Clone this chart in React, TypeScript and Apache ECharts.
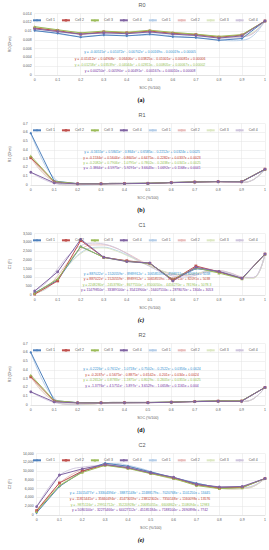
import React, { useEffect, useRef } from "react";
import * as echarts from "echarts";

const SOC = [0, 0.1, 0.2, 0.3, 0.4, 0.5, 0.6, 0.7, 0.8, 0.9, 1];
const FIT_SOC = [0, 0.05, 0.1, 0.15, 0.2, 0.25, 0.3, 0.35, 0.4, 0.45, 0.5, 0.55, 0.6, 0.65, 0.7, 0.75, 0.8, 0.85, 0.9, 0.95, 1];
const CELLS = ["Cell 1", "Cell 2", "Cell 3", "Cell 4"];

const R0_VALUES = [
  [0.0101, 0.0095, 0.0086, 0.0091, 0.0089, 0.0093, 0.0087, 0.0085, 0.0079, 0.0083, 0.0123],
  [0.0107, 0.0101, 0.0093, 0.0098, 0.0096, 0.01, 0.0095, 0.0092, 0.0086, 0.0091, 0.0123],
  [0.011, 0.0103, 0.0096, 0.01, 0.0097, 0.0102, 0.0097, 0.0093, 0.0088, 0.0092, 0.0123],
  [0.0105, 0.0099, 0.0093, 0.0096, 0.0094, 0.0098, 0.0093, 0.009, 0.0084, 0.0089, 0.0123],
];
const R0_FITS = [
  [0.0101, 0.0098, 0.0094, 0.009, 0.0088, 0.0089, 0.0091, 0.0091, 0.009, 0.009, 0.0091, 0.0091, 0.0089, 0.0087, 0.0085, 0.0083, 0.008, 0.0078, 0.0079, 0.009, 0.0123],
  [0.0107, 0.0104, 0.01, 0.0097, 0.0095, 0.0096, 0.0097, 0.0098, 0.0098, 0.0098, 0.0098, 0.0097, 0.0095, 0.0093, 0.0091, 0.0089, 0.0087, 0.0086, 0.0087, 0.0096, 0.0123],
  [0.011, 0.0106, 0.0102, 0.0099, 0.0097, 0.0098, 0.0099, 0.0099, 0.0099, 0.01, 0.01, 0.0099, 0.0097, 0.0095, 0.0093, 0.009, 0.0088, 0.0087, 0.0089, 0.0098, 0.0123],
  [0.0105, 0.0102, 0.0098, 0.0095, 0.0093, 0.0094, 0.0095, 0.0096, 0.0096, 0.0096, 0.0096, 0.0095, 0.0093, 0.0091, 0.0089, 0.0087, 0.0085, 0.0084, 0.0086, 0.0095, 0.0123],
];
const R0_EQUATIONS = [
  "y = -0.00515x⁶ + 0.01072x⁵ - 0.00702x⁴ + 0.00169x³ - 0.00019x + 0.00005",
  "y = -0.01412x⁶ + 0.04908x⁵ - 0.06406x⁴ + 0.03825x³ - 0.01001x² + 0.00081x + 0.00006",
  "y = -0.01258x⁶ + 0.03539x⁵ - 0.04044x⁴ + 0.02811x³ - 0.00805x² + 0.00067x + 0.00002",
  "y = 0.00250x⁶ - 0.00590x⁵ + 0.00491x⁴ - 0.00167x³ + 0.00010x + 0.00008",
];

const R1_VALUES = [
  [0.59, 0.045, 0.016, 0.015, 0.017, 0.02, 0.028, 0.035, 0.04, 0.038, 0.175],
  [0.31, 0.035, 0.014, 0.014, 0.016, 0.019, 0.027, 0.034, 0.038, 0.037, 0.18],
  [0.33, 0.04, 0.015, 0.015, 0.017, 0.02, 0.028, 0.035, 0.039, 0.04, 0.18],
  [0.145, 0.025, 0.013, 0.013, 0.015, 0.018, 0.026, 0.033, 0.037, 0.036, 0.18],
];
const R1_FITS = [
  [0.59, 0.28, 0.08, 0.0, -0.01, 0.0, 0.01, 0.02, 0.02, 0.02, 0.02, 0.02, 0.03, 0.03, 0.04, 0.04, 0.04, 0.03, 0.03, 0.06, 0.175],
  [0.31, 0.14, 0.04, 0.0, 0.0, 0.01, 0.01, 0.02, 0.02, 0.02, 0.02, 0.02, 0.03, 0.03, 0.04, 0.04, 0.04, 0.03, 0.03, 0.06, 0.18],
  [0.33, 0.15, 0.04, 0.0, 0.0, 0.01, 0.01, 0.02, 0.02, 0.02, 0.02, 0.02, 0.03, 0.03, 0.04, 0.04, 0.04, 0.03, 0.03, 0.06, 0.18],
  [0.145, 0.07, 0.02, 0.0, 0.0, 0.01, 0.01, 0.02, 0.02, 0.02, 0.02, 0.02, 0.03, 0.03, 0.04, 0.04, 0.04, 0.03, 0.03, 0.06, 0.18],
];
const R1_EQUATIONS = [
  "y = -0.1655x⁶ + 0.5841x⁵ - 0.864x⁴ + 0.6585x³ - 0.2212x² + 0.0324x + 0.0025",
  "y = -0.1534x⁶ + 0.5644x⁵ - 0.8605x⁴ + 0.6475x³ - 0.2282x² + 0.0337x + 0.0023",
  "y = -0.2082x⁶ + 0.7906x⁵ - 1.0795x⁴ + 0.7802x³ - 0.2438x² + 0.0341x + 0.0025",
  "y = -1.3864x⁶ + 4.5975x⁵ - 5.9291x⁴ + 3.6643x³ - 1.0692x² + 0.1168x + 0.0041",
];

const C1_VALUES = [
  [130, 840, 2750, 2150, 1930, 1800, 870, 1500, 1330, 930, 2330],
  [50, 800, 3100, 2140, 1950, 1800, 850, 1650, 1320, 940, 2330],
  [100, 920, 2770, 2130, 1920, 1790, 870, 1550, 1250, 920, 2330],
  [230, 1320, 3170, 2150, 1900, 1820, 800, 1580, 1340, 950, 2330],
];
const C1_FITS = [
  [100, 350, 950, 1750, 2400, 2700, 2720, 2560, 2280, 1960, 1650, 1380, 1200, 1150, 1220, 1330, 1330, 1200, 1000, 980, 2330],
  [50, 400, 1100, 1950, 2600, 2850, 2850, 2680, 2380, 2020, 1680, 1380, 1170, 1120, 1200, 1350, 1380, 1250, 1030, 980, 2330],
  [100, 380, 980, 1750, 2350, 2650, 2680, 2520, 2250, 1950, 1650, 1390, 1220, 1170, 1230, 1320, 1300, 1160, 970, 950, 2330],
  [230, 700, 1500, 2300, 2800, 2950, 2900, 2700, 2350, 1970, 1620, 1300, 1080, 1020, 1130, 1320, 1380, 1250, 1020, 1000, 2330],
];
const C1_EQUATIONS = [
  "y = 887022x⁶ + 1520559x⁵ - 8989912x⁴ + 10658559x³ - 4598711x² + 82091x + 5038",
  "y = 887022x⁶ + 1520559x⁵ - 8989912x⁴ + 10658559x³ - 4598711x² + 82091x + 5038",
  "y = 2248280x⁶ - 2453780x⁵ - 8677550x⁴ + 8500050x³ - 4456270x² + 78196x + 5078.3",
  "y = 11479850x⁶ - 33389100x⁵ + 35413900x⁴ - 16407510x³ + 2878070x² + 1304x + 3053",
];

const R2_VALUES = [
  [0.6, 0.05, 0.027, 0.026, 0.027, 0.028, 0.033, 0.04, 0.045, 0.045, 0.2],
  [0.32, 0.045, 0.025, 0.025, 0.026, 0.027, 0.032, 0.039, 0.044, 0.045, 0.2],
  [0.34, 0.05, 0.026, 0.026, 0.027, 0.028, 0.034, 0.041, 0.047, 0.048, 0.2],
  [0.15, 0.035, 0.024, 0.024, 0.025, 0.026, 0.031, 0.038, 0.043, 0.043, 0.2],
];
const R2_FITS = [
  [0.6, 0.28, 0.08, 0.01, 0.0, 0.01, 0.02, 0.03, 0.03, 0.03, 0.03, 0.03, 0.03, 0.04, 0.04, 0.05, 0.05, 0.04, 0.04, 0.07, 0.2],
  [0.32, 0.15, 0.05, 0.01, 0.01, 0.01, 0.02, 0.03, 0.03, 0.03, 0.03, 0.03, 0.03, 0.04, 0.04, 0.05, 0.05, 0.04, 0.04, 0.07, 0.2],
  [0.34, 0.16, 0.05, 0.01, 0.01, 0.01, 0.02, 0.03, 0.03, 0.03, 0.03, 0.03, 0.03, 0.04, 0.04, 0.05, 0.05, 0.04, 0.04, 0.07, 0.2],
  [0.15, 0.08, 0.03, 0.01, 0.01, 0.02, 0.02, 0.03, 0.03, 0.03, 0.03, 0.03, 0.03, 0.04, 0.04, 0.05, 0.05, 0.04, 0.04, 0.07, 0.2],
];
const R2_EQUATIONS = [
  "y = -0.2226x⁶ + 0.7612x⁵ - 1.0718x⁴ + 0.7502x³ - 0.2522x² + 0.0356x + 0.0024",
  "y = -0.2037x⁶ + 0.5675x⁵ - 0.8875x⁴ + 0.6542x³ - 0.201x² + 0.034x + 0.0024",
  "y = -0.2652x⁶ + 0.8783x⁵ - 1.1875x⁴ + 0.8029x³ - 0.2605x² + 0.0355x + 0.0025",
  "y = -1.3776x⁶ + 4.5751x⁵ - 5.897x⁴ + 3.6529x³ - 1.0658x² + 0.1165x + 0.004",
];

const C2_VALUES = [
  [500, 6500, 9900, 11800, 11100, 9800, 8500, 7200, 6200, 6300, 8300],
  [1000, 7300, 10000, 11400, 10700, 9500, 8400, 6900, 6100, 6300, 8300],
  [800, 6700, 9700, 11300, 10600, 9400, 8300, 6700, 6000, 6200, 8300],
  [1900, 9100, 10500, 11500, 10800, 9600, 8600, 7000, 6400, 6500, 8300],
];
const C2_FITS = [
  [500, 3700, 6400, 8500, 10000, 11000, 11600, 11700, 11300, 10700, 9900, 9100, 8500, 7900, 7300, 6700, 6200, 6000, 6100, 6600, 8300],
  [1000, 4300, 7200, 9100, 10300, 11000, 11400, 11400, 11000, 10400, 9600, 8800, 8200, 7600, 7000, 6500, 6100, 5900, 6000, 6500, 8300],
  [800, 3900, 6600, 8500, 9800, 10700, 11200, 11300, 10900, 10300, 9500, 8800, 8200, 7600, 7000, 6500, 6100, 5900, 6000, 6500, 8300],
  [1900, 6000, 9000, 10400, 10900, 11200, 11400, 11300, 11000, 10400, 9700, 9000, 8400, 7800, 7200, 6700, 6300, 6100, 6200, 6700, 8300],
];
const C2_EQUATIONS = [
  "y = -11015477x⁶ + 33304394x⁵ - 38871148x⁴ + 22488179x³ - 7020768x² + 1101250x + 13445",
  "y = -11815441x⁶ + 35660494x⁵ - 41473059x⁴ + 23812302x³ - 7350148x² + 1160098x + 13576",
  "y = -9875116x⁶ + 29951712x⁵ - 35220928x⁴ + 20685055x³ - 6606862x² + 1108094x + 12983",
  "y = 5080100x⁶ - 32275466x⁵ + 64427112x⁴ - 45185184x³ + 7188104x² + 2690898x + 7742",
];

const TITLES = ["R0", "R1", "C1", "R2", "C2"];
const Y_NAMES = ["R0 (Ohm)", "R1 (Ohm)", "C1 (F)", "R2 (Ohm)", "C2 (F)"];
const Y_MAX = [0.014, 0.7, 3500, 0.7, 14000];
const Y_STEP = [0.002, 0.1, 500, 0.1, 2000];
const SUBLABELS = ["(a)", "(b)", "(c)", "(d)", "(e)"];
const X_NAME = "SOC (%/100)";

const VALUES = [R0_VALUES, R1_VALUES, C1_VALUES, R2_VALUES, C2_VALUES];
const FITS = [R0_FITS, R1_FITS, C1_FITS, R2_FITS, C2_FITS];
const EQUATIONS = [R0_EQUATIONS, R1_EQUATIONS, C1_EQUATIONS, R2_EQUATIONS, C2_EQUATIONS];

// layout / style
const PANEL_H = 110;
const GRID_LEFT = [22, 20, 24, 20, 26.7];
const GRID_TOP = 13.5;
const GRID_H = 61.5;
const EQ_Y = [
  [52, 58.5, 65, 71],
  [42.3, 47.5, 52.7, 58],
  [53.7, 59.3, 64.7, 69.9],
  [39.3, 45, 50.3, 55.7],
  [53.3, 59, 64.7, 70.3],
];
const EQ_X = [140, 142, 147, 142, 140];
const SUB_ITALIC = [false, false, true, false, true];
const COLORS = ["#4f81bd", "#c0504d", "#9bbb59", "#8064a2"];
const FIT_COLORS = ["#b4cde8", "#e8bcbb", "#dde8c4", "#cfc5dd"];
const EQ_COLORS = ["#2f8fcf", "#c0392b", "#92c050", "#7030a0"];
const SYMBOLS = ["diamond", "rect", "triangle", "circle"];
const FONT = "'Liberation Sans', Arial, sans-serif";

export default function App() {
  const ref = useRef<HTMLDivElement>(null);
  useEffect(() => {
    if (!ref.current) return;
    const chart = echarts.init(ref.current, undefined, { renderer: "svg" });
    const grids: any[] = [];
    const xAxes: any[] = [];
    const yAxes: any[] = [];
    const series: any[] = [];
    const legends: any[] = [];
    const graphics: any[] = [];
    for (let p = 0; p < 5; p++) {
      const off = p * PANEL_H;
      grids.push({ left: GRID_LEFT[p], right: 4, top: off + GRID_TOP, height: GRID_H, containLabel: false });
      xAxes.push({
        type: "value", gridIndex: p, min: 0, max: 1, interval: 0.1,
        name: X_NAME, nameLocation: "middle", nameGap: 10.5,
        nameTextStyle: { fontSize: 3.6, color: "#595959", fontFamily: FONT },
        axisLine: { show: true, lineStyle: { color: "#d9d9d9", width: 0.6 } },
        axisTick: { show: false },
        axisLabel: { fontSize: 3.5, color: "#595959", margin: 3, fontFamily: FONT },
        splitLine: { show: true, lineStyle: { color: "#e3e3e3", width: 0.5 } },
      });
      const thousands = Y_MAX[p] > 100;
      yAxes.push({
        type: "value", gridIndex: p, min: 0, max: Y_MAX[p], interval: Y_STEP[p],
        name: Y_NAMES[p], nameLocation: "middle", nameGap: GRID_LEFT[p] - 9,
        nameTextStyle: { fontSize: 3.6, color: "#595959", fontFamily: FONT },
        axisLine: { show: false }, axisTick: { show: false },
        axisLabel: {
          fontSize: 3.5, color: "#595959", margin: 3, fontFamily: FONT,
          formatter: (v: number) => (thousands ? v.toLocaleString("en-US") : String(+v.toFixed(4))),
        },
        splitLine: { show: true, lineStyle: { color: "#e3e3e3", width: 0.5 } },
      });
      for (let c = 0; c < 4; c++) {
        series.push({
          type: "line", name: CELLS[c] + " ", xAxisIndex: p, yAxisIndex: p,
          data: FIT_SOC.map((x, k) => [x, FITS[p][c][k]]),
          smooth: 0.4, showSymbol: false, symbol: "none",
          lineStyle: { width: 0.9, color: FIT_COLORS[c] }, itemStyle: { color: FIT_COLORS[c] }, z: 2,
        });
      }
      for (let c = 0; c < 4; c++) {
        series.push({
          type: "line", name: CELLS[c], xAxisIndex: p, yAxisIndex: p,
          data: SOC.map((x, k) => [x, VALUES[p][c][k]]),
          symbol: SYMBOLS[c], symbolSize: 2.8,
          lineStyle: { width: 1, color: COLORS[c] }, itemStyle: { color: COLORS[c] }, z: 3,
        });
      }
      legends.push({
        top: off + 18.3, left: 32, itemWidth: 8, itemHeight: 3, itemGap: 6,
        data: [...CELLS, ...CELLS.map((n) => n + " ")],
        formatter: (n: string) => n.trim(),
        textStyle: { fontSize: 3.5, color: "#595959", fontFamily: FONT },
        padding: 0,
      });
      graphics.push({
        type: "text", x: 142, y: off + 5,
        style: { text: TITLES[p], fontSize: 5.5, fill: "#595959", fontFamily: FONT, align: "center", verticalAlign: "middle" },
      });
      graphics.push({
        type: "text", x: 141, y: off + 99.5,
        style: {
          text: SUBLABELS[p], fontSize: 6, fill: "#000", fontWeight: "bold",
          fontStyle: SUB_ITALIC[p] ? "italic" : "normal",
          fontFamily: "'Liberation Serif', 'DejaVu Serif', serif", align: "center", verticalAlign: "middle",
        },
      });
      for (let c = 0; c < 4; c++) {
        graphics.push({
          type: "text", x: EQ_X[p], y: off + EQ_Y[p][c], z: 10,
          style: { text: EQUATIONS[p][c], fontSize: 3.4, fill: EQ_COLORS[c], fontFamily: FONT, align: "center", verticalAlign: "middle" },
        });
      }
    }
    chart.setOption({
      animation: false,
      backgroundColor: "#ffffff",
      grid: grids, xAxis: xAxes, yAxis: yAxes, series, legend: legends,
      graphic: graphics,
    });
    return () => chart.dispose();
  }, []);
  return <div ref={ref} style={{ position: "absolute", left: 0, top: 0, width: 269, height: 550 }} />;
}
